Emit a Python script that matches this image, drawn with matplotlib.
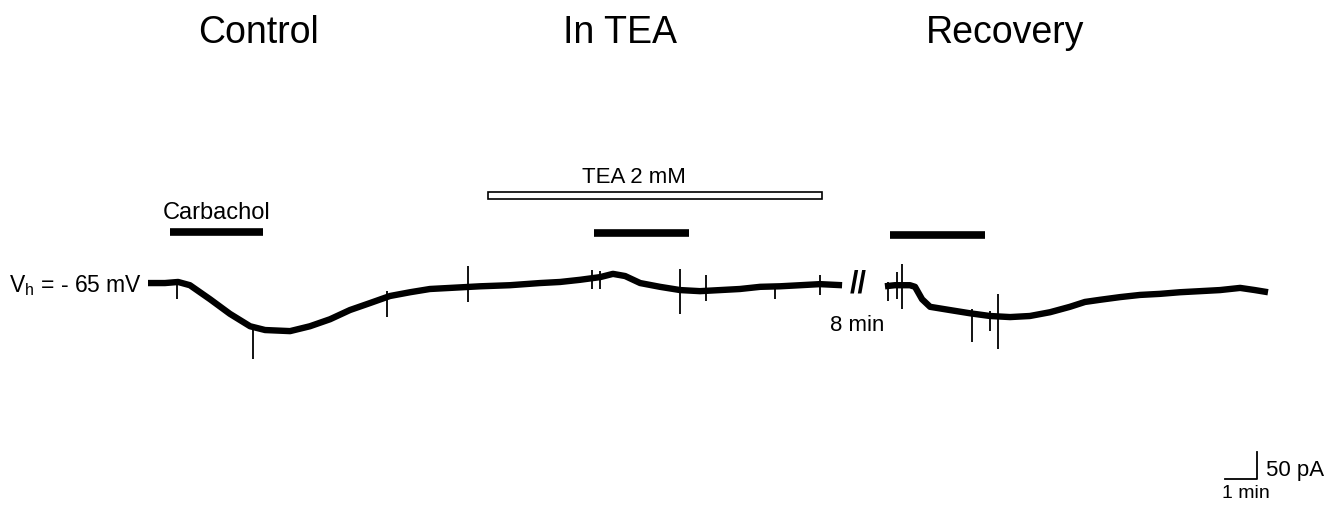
import matplotlib.pyplot as plt

plt.rcParams['font.family'] = ['Liberation Sans', 'DejaVu Sans']

# holding current trace, time in min (plot position), current in pA relative to holding
t_ctrl = [0.0, 0.53, 0.94, 1.31, 1.94, 2.56, 3.19, 3.66, 4.44, 5.06, 5.69, 6.31,
          6.94, 7.56, 8.19, 8.81, 9.44, 10.38, 11.31, 12.25, 12.88, 13.5, 14.13,
          14.53, 14.91, 15.38, 16.0, 16.63, 17.25, 17.88, 18.5, 19.13, 19.75,
          20.38, 21.0, 21.69]
i_ctrl = [0, 0, 2, -4, -30, -57, -80, -87, -89, -80, -67, -50,
          -37, -24, -17, -11, -9, -6, -4, 0, 2, 6, 11,
          17, 13, 0, -7, -13, -15, -13, -11, -7, -6,
          -4, -2, -4]

t_rec = [23.03, 23.34, 23.81, 23.97, 24.19, 24.44, 25.06, 25.69, 26.31, 26.94,
         27.56, 28.19, 28.81, 29.28, 29.75, 30.38, 31.0, 31.63, 32.25, 32.88,
         33.5, 34.13, 34.59, 35.0]
i_rec = [-6, -4, -4, -7, -30, -44, -50, -56, -61, -63,
         -61, -54, -44, -35, -31, -26, -22, -20, -17, -15,
         -13, -9, -13, -17]

# fast transients: time, top, bottom
spike_t = [0.91, 3.28, 7.47, 10.0, 13.88, 14.13, 16.63, 17.44, 19.59, 21.0,
           23.13, 23.41, 23.56, 25.75, 26.31, 26.56]
spike_top = [0, -76, -15, 31, 24, 22, 26, 15, -2, 15,
             2, 20, 35, -48, -52, -20]
spike_bot = [-30, -141, -63, -35, -11, -11, -57, -33, -30, -22,
             -33, -30, -48, -109, -89, -122]

# drug application bars: start, end (min)
carb_start = [0.69, 13.94, 23.19]
carb_end = [3.59, 16.91, 26.16]
carb_level = [94, 93, 89]
tea_start, tea_end, tea_level = 10.63, 21.06, 162

titles = ['Control', 'In TEA', 'Recovery']
title_x = [258, 620, 1005]

fig = plt.figure(figsize=(13.27, 5.06), dpi=100)
ax = fig.add_axes([0, 0, 1, 1])
ax.set_xlim(-4.625, 36.844)
ax.set_ylim(-411, 526)
ax.axis('off')

ax.plot(t_ctrl, i_ctrl, color='black', lw=4.6, solid_capstyle='butt')
ax.plot(t_rec, i_rec, color='black', lw=4.6, solid_capstyle='butt')
ax.vlines(spike_t, spike_bot, spike_top, color='black', lw=1.3)

ax.hlines(carb_level, carb_start, carb_end, color='black', lw=5.5)
ax.add_patch(plt.Rectangle((tea_start, tea_level - 6), tea_end - tea_start, 12,
                           facecolor='white', edgecolor='black', lw=1.2))

for name, x in zip(titles, title_x):
    fig.text(x / 1327, 1 - 33 / 506, name, fontsize=27, ha='center', va='center')

ax.text(2.15, 132, 'Carbachol', fontsize=17, ha='center', va='center')
ax.text(15.2, 198, 'TEA 2 mM', fontsize=16, ha='center', va='center')
ax.text(-4.35, -2, r'V$_\mathregular{h}$ = - 65 mV', fontsize=16.5, ha='left', va='center')
ax.text(22.2, 0, '//', fontsize=22, fontweight='bold', ha='center', va='center')
ax.text(22.17, -76, '8 min', fontsize=16, ha='center', va='center')

# scale bar: 1 min x 50 pA
ax.plot([33.66, 34.66, 34.66], [-363, -363, -313], color='black', lw=1.3)
ax.text(34.95, -345, '50 pA', fontsize=16, ha='left', va='center')
ax.text(34.3, -387, '1 min', fontsize=14, ha='center', va='center')

fig.savefig('out.png', dpi=100)
